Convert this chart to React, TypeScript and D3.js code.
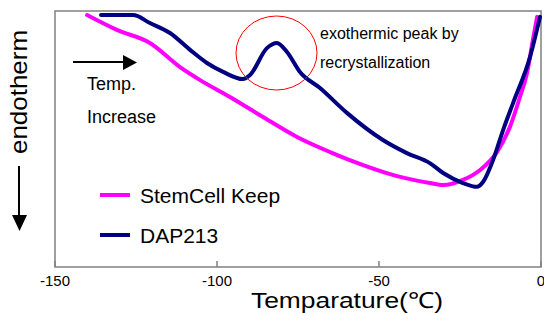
import React, { useRef, useEffect } from 'react'
import { select, line, curveMonotoneX, scaleLinear } from 'd3'

// temperature readings (°C) and heat flow (arbitrary units, 0-100)
const stemTemp = [-140.1, -130.9, -120.7, -111.4, -105.2, -96.0, -85.8, -75.3, -65.1, -54.9, -44.4, -34.3, -30.2, -24.1, -18.8, -13.6, -9.6, -6.5, -4.3, -2.5, -1.2]
const stemFlow = [98.4, 92.6, 87.5, 78.1, 73.0, 66.4, 58.6, 50.8, 44.9, 39.8, 35.5, 32.8, 32.0, 34.0, 37.9, 44.9, 54.7, 66.4, 75.8, 88.7, 97.7]

const dapTemp = [-135.8, -125.9, -120.7, -114.5, -108.3, -103.1, -98.1, -92.0, -89.8, -84.6, -81.5, -78.4, -74.4, -68.2, -59.9, -48.8, -41.4, -34.3, -30.2, -24.1, -19.8, -17.9, -14.8, -11.7, -8.6, -3.4, -0.3]
const dapFlow = [98.4, 98.4, 95.3, 91.4, 84.8, 79.7, 76.2, 73.4, 75.0, 85.5, 87.5, 84.0, 76.2, 69.9, 60.2, 49.6, 44.5, 40.6, 36.7, 32.8, 31.3, 33.2, 41.8, 53.5, 64.1, 82.0, 97.7]

const xTicks = [-150, -100, -50, 0]
const seriesNames = ['StemCell Keep', 'DAP213']
const seriesColors = ['#ff00ff', '#000080']

const W = 544
const H = 313
const FONT = 'Liberation Sans, Arial, sans-serif'

function DscChart() {
  const svgRef = useRef(null)

  useEffect(() => {
    const svg = select(svgRef.current)
    svg.selectAll('*').remove()

    const x = scaleLinear().domain([-150, 0]).range([55, 541])
    const y = scaleLinear().domain([0, 100]).range([267, 11])

    // frame
    svg.append('rect')
      .attr('x', x(-150)).attr('y', y(100))
      .attr('width', x(0) - x(-150)).attr('height', y(0) - y(100))
      .attr('fill', 'none').attr('stroke', '#808080').attr('stroke-width', 1.5)

    // ticks (inside) + labels
    xTicks.forEach(t => {
      svg.append('line')
        .attr('x1', x(t)).attr('x2', x(t))
        .attr('y1', y(0)).attr('y2', y(0) - 6)
        .attr('stroke', '#808080').attr('stroke-width', 1.5)
      svg.append('text')
        .attr('x', x(t)).attr('y', 286)
        .attr('text-anchor', 'middle')
        .attr('font-family', FONT).attr('font-size', 15)
        .text(t)
    })

    const series = [
      { t: stemTemp, v: stemFlow },
      { t: dapTemp, v: dapFlow }
    ]

    const myLine = line()
      .x(d => x(d[0]))
      .y(d => y(d[1]))
      .curve(curveMonotoneX)

    series.forEach((s, i) => {
      const pts = s.t.map((t, j) => [t, s.v[j]])
      svg.append('path')
        .attr('d', myLine(pts))
        .attr('fill', 'none')
        .attr('stroke', seriesColors[i])
        .attr('stroke-width', 4)
        .attr('stroke-linecap', 'round')
        .attr('stroke-linejoin', 'round')
    })

    // red circle around the recrystallization peak
    svg.append('ellipse')
      .attr('cx', 276.5).attr('cy', 53).attr('rx', 40.5).attr('ry', 37)
      .attr('fill', 'none').attr('stroke', '#ff0000').attr('stroke-width', 1)

    svg.append('text')
      .attr('x', 320).attr('y', 39)
      .attr('font-family', FONT).attr('font-size', 16)
      .text('exothermic peak by')
    svg.append('text')
      .attr('x', 320).attr('y', 68)
      .attr('font-family', FONT).attr('font-size', 16)
      .text('recrystallization')

    // temperature direction arrow
    svg.append('line')
      .attr('x1', 73).attr('x2', 124).attr('y1', 62).attr('y2', 62)
      .attr('stroke', '#000').attr('stroke-width', 2)
    svg.append('path')
      .attr('d', 'M123,55 L137,62.5 L123,70 Z')
      .attr('fill', '#000')
    svg.append('text')
      .attr('x', 87).attr('y', 90)
      .attr('font-family', FONT).attr('font-size', 18)
      .text('Temp.')
    svg.append('text')
      .attr('x', 87).attr('y', 123)
      .attr('font-family', FONT).attr('font-size', 18)
      .text('Increase')

    // legend
    seriesNames.forEach((name, i) => {
      const ly = 195 + i * 40
      svg.append('line')
        .attr('x1', 100).attr('x2', 130).attr('y1', ly).attr('y2', ly)
        .attr('stroke', seriesColors[i]).attr('stroke-width', 4)
      svg.append('text')
        .attr('x', 140).attr('y', ly + 8)
        .attr('font-family', FONT).attr('font-size', 21)
        .text(name)
    })

    // y axis label with down arrow
    svg.append('text')
      .attr('transform', 'translate(27,92) rotate(-90)')
      .attr('text-anchor', 'middle')
      .attr('font-family', FONT).attr('font-size', 24)
      .attr('textLength', 124).attr('lengthAdjust', 'spacingAndGlyphs')
      .text('endotherm')
    svg.append('line')
      .attr('x1', 19).attr('x2', 19).attr('y1', 166).attr('y2', 216)
      .attr('stroke', '#000').attr('stroke-width', 2)
    svg.append('path')
      .attr('d', 'M12,215 L19.5,231 L27,215 Z')
      .attr('fill', '#000')

    // x axis title
    svg.append('text')
      .attr('x', 251).attr('y', 308)
      .attr('font-family', FONT).attr('font-size', 22)
      .attr('textLength', 192).attr('lengthAdjust', 'spacingAndGlyphs')
      .text('Temparature(℃)')
  }, [])

  return (
    <svg ref={svgRef} width={W} height={H}
      style={{ position: 'absolute', left: 0, top: 0, background: '#fff' }} />
  )
}

export default function App() {
  return <DscChart />
}
